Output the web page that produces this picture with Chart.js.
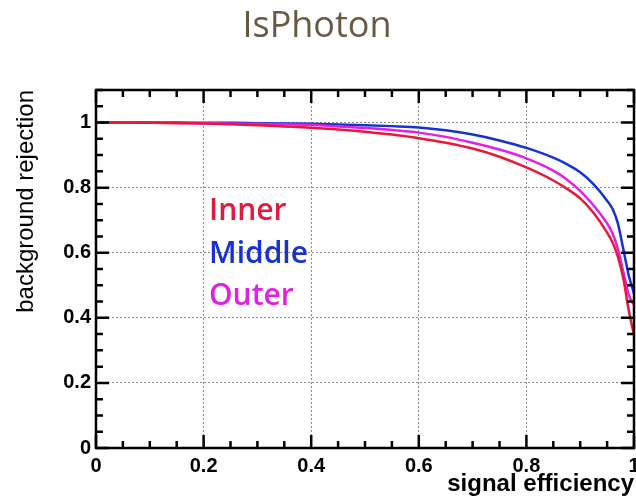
<!DOCTYPE html>
<html>
<head>
<meta charset="utf-8">
<script src="https://cdn.jsdelivr.net/npm/chart.js@4/dist/chart.umd.min.js"></script>
<style>
  body { margin: 0; background: #fff; }
  canvas { display: block; }
</style>
</head>
<body>
<canvas id="myChart" width="636" height="503"></canvas>
<script>
// signal efficiency (x) and background rejection for each region
const effX = [0, 0.05, 0.1, 0.15, 0.2, 0.25, 0.3, 0.35, 0.4, 0.45, 0.5, 0.55, 0.6, 0.65, 0.7, 0.75, 0.8, 0.85, 0.875, 0.9, 0.925, 0.95, 0.96, 0.97, 0.98, 0.99, 0.995, 1.0];
const inner = [1, 1, 0.999, 0.998, 0.997, 0.995, 0.992, 0.988, 0.984, 0.979, 0.972, 0.963, 0.952, 0.938, 0.920, 0.895, 0.862, 0.822, 0.797, 0.767, 0.722, 0.662, 0.632, 0.588, 0.522, 0.425, 0.385, 0.35];
const middle = [1, 1, 1, 1, 0.999, 0.999, 0.998, 0.997, 0.996, 0.994, 0.992, 0.989, 0.985, 0.976, 0.963, 0.945, 0.922, 0.892, 0.872, 0.847, 0.81, 0.76, 0.735, 0.69, 0.612, 0.532, 0.502, 0.475];
const outer = [1, 1, 1, 0.999, 0.998, 0.997, 0.996, 0.995, 0.993, 0.988, 0.983, 0.977, 0.969, 0.956, 0.938, 0.917, 0.89, 0.852, 0.825, 0.79, 0.745, 0.69, 0.66, 0.612, 0.542, 0.472, 0.452, 0.44];

const seriesNames = ["Inner", "Middle", "Outer"];
const seriesColors = ["#e8173c", "#1632d4", "#e41ee4"];

const xTicks = [0, 0.2, 0.4, 0.6, 0.8, 1];
const xTickLabels = ["0", "0.2", "0.4", "0.6", "0.8", "1"];
const yTicks = [0, 0.2, 0.4, 0.6, 0.8, 1];
const yTickLabels = ["0", "0.2", "0.4", "0.6", "0.8", "1"];

function pts(ys) {
  return effX.map((x, i) => ({ x: x, y: ys[i] }));
}

// ROOT style frame with ticks on all four sides
const framePlugin = {
  id: "frame",
  afterDraw(chart) {
    const ctx = chart.ctx;
    const a = chart.chartArea;
    const xs = chart.scales.x;
    const ys = chart.scales.y;
    ctx.save();
    ctx.strokeStyle = "#000";
    ctx.lineWidth = 2.5;
    ctx.strokeRect(a.left, a.top, a.right - a.left, a.bottom - a.top);
    for (let k = 0; k <= 20; k++) {
      const v = k * 0.05;
      const len = k % 4 === 0 ? 13 : 7;
      const px = xs.getPixelForValue(v);
      ctx.beginPath();
      ctx.moveTo(px, a.bottom);
      ctx.lineTo(px, a.bottom - len);
      ctx.moveTo(px, a.top);
      ctx.lineTo(px, a.top + len);
      ctx.stroke();
    }
    for (let k = 0; k <= 22; k++) {
      const v = k * 0.05;
      const len = k % 4 === 0 ? 13 : 7;
      const py = ys.getPixelForValue(v);
      ctx.beginPath();
      ctx.moveTo(a.left, py);
      ctx.lineTo(a.left + len, py);
      ctx.moveTo(a.right, py);
      ctx.lineTo(a.right - len, py);
      ctx.stroke();
    }
    // text legend
    ctx.font = "600 30px 'Open Sans'";
    ctx.textBaseline = "alphabetic";
    ctx.textAlign = "left";
    const baselines = [220, 263, 305];
    chart.data.datasets.forEach((ds, i) => {
      ctx.fillStyle = ds.borderColor;
      ctx.fillText(ds.label, 209, baselines[i]);
    });
    ctx.restore();
  },
};

const ctx = document.getElementById("myChart");
const myChart = new Chart(ctx, {
  type: "line",
  data: {
    datasets: [
      { label: seriesNames[0], data: pts(inner), borderColor: seriesColors[0], order: 0 },
      { label: seriesNames[1], data: pts(middle), borderColor: seriesColors[1], order: 2 },
      { label: seriesNames[2], data: pts(outer), borderColor: seriesColors[2], order: 1 },
    ],
  },
  options: {
    responsive: false,
    animation: false,
    layout: { padding: { left: 0, right: 2, top: 0, bottom: 0 } },
    elements: {
      point: { radius: 0 },
      line: { borderWidth: 2.5, cubicInterpolationMode: "monotone" },
    },
    plugins: {
      legend: { display: false },
      tooltip: { enabled: false },
      title: {
        display: true,
        text: "IsPhoton",
        color: "#665a44",
        font: { family: "'Open Sans'", size: 36, weight: "normal", lineHeight: 1.2 },
        padding: { top: 5, bottom: 41.8 },
      },
    },
    scales: {
      x: {
        type: "linear",
        min: 0,
        max: 1,
        afterBuildTicks: (s) => { s.ticks = xTicks.map((v) => ({ value: v })); },
        afterFit: (s) => { s.height = 55; s.paddingLeft = 0; s.paddingRight = 0; },
        ticks: {
          color: "#000",
          font: { family: "'Liberation Sans', Arial", size: 20, weight: "bold" },
          padding: 6,
          maxRotation: 0,
          callback: (v, i) => xTickLabels[i],
        },
        grid: { color: "#8a8a8a", lineWidth: 1, drawTicks: false },
        border: { display: false, dash: [2, 2] },
        title: {
          display: true,
          text: "signal efficiency",
          align: "end",
          color: "#000",
          font: { family: "'Liberation Sans', Arial", size: 24, weight: "bold", lineHeight: 1.2 },
          padding: { top: 0, bottom: 4 },
        },
      },
      y: {
        type: "linear",
        min: 0,
        max: 1.1,
        afterBuildTicks: (s) => { s.ticks = yTicks.map((v) => ({ value: v })); },
        afterFit: (s) => { s.width = 96; },
        ticks: {
          color: "#000",
          font: { family: "'Liberation Sans', Arial", size: 20, weight: "bold" },
          padding: 5,
          callback: (v, i) => yTickLabels[i],
        },
        grid: { color: "#8a8a8a", lineWidth: 1, drawTicks: false },
        border: { display: false, dash: [2, 2] },
        title: {
          display: true,
          text: "background rejection",
          align: "end",
          color: "#000",
          font: { family: "'Liberation Sans', Arial", size: 24, weight: "normal", lineHeight: 1.2 },
          padding: { top: 12, bottom: 0 },
        },
      },
    },
  },
  plugins: [framePlugin],
});
</script>
</body>
</html>
